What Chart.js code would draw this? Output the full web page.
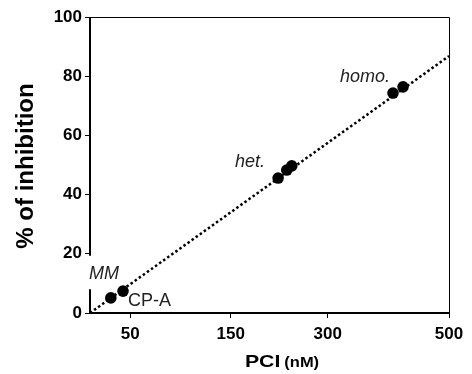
<!DOCTYPE html>
<html>
<head>
<meta charset="utf-8">
<script src="https://cdn.jsdelivr.net/npm/chart.js@4/dist/chart.umd.min.js"></script>
<style>
  html, body { margin: 0; padding: 0; background: #fff; }
  #wrap { width: 472px; height: 374px; }
</style>
</head>
<body>
<div id="wrap"><canvas id="c"></canvas></div>
<script>
// ─── data ────────────────────────────────────────────────────────────────────
const POINT_X = [29, 46, 262, 274, 281, 422, 436];
const POINT_Y = [5.1, 7.4, 45.6, 48.3, 49.7, 74.3, 76.4];
const FIT_X = [0, 500];
const FIT_Y = [0, 86.8];
const X_TICK_POS    = [56, 196, 331, 500];
const X_TICK_LABELS = ['50', '150', '300', '500'];
const Y_TICKS = [0, 20, 40, 60, 80, 100];
const Y_BREAK = [8, 20];               // gap in the left axis
const GROUP_LABELS = ['MM', 'CP-A', 'het.', 'homo.'];

const FONT = "'Liberation Sans', Arial, Helvetica, sans-serif";

// ─── axis frame, break, titles and group labels ──────────────────────────────
const framePlugin = {
  id: 'frame',
  afterDraw(chart) {
    const { ctx, chartArea: a, scales: { x, y } } = chart;
    ctx.save();
    ctx.strokeStyle = '#000';

    // thin top + right border
    ctx.lineWidth = 1;
    ctx.beginPath();
    ctx.moveTo(a.left, a.top + 0.5);
    ctx.lineTo(a.right + 0.5, a.top + 0.5);
    ctx.lineTo(a.right + 0.5, a.bottom);
    ctx.stroke();

    // broken left axis
    ctx.lineWidth = 2;
    ctx.beginPath();
    ctx.moveTo(a.left, a.top);
    ctx.lineTo(a.left, y.getPixelForValue(Y_BREAK[1]) + 2);
    ctx.moveTo(a.left, y.getPixelForValue(Y_BREAK[0]));
    ctx.lineTo(a.left, a.bottom);
    ctx.stroke();

    // group labels
    const px = i => x.getPixelForValue(POINT_X[i]);
    const py = i => y.getPixelForValue(POINT_Y[i]);
    ctx.fillStyle = '#222';
    ctx.textBaseline = 'alphabetic';
    ctx.font = `italic 18px ${FONT}`;
    ctx.textAlign = 'left';
    ctx.fillText(GROUP_LABELS[0], a.left - 1, py(0) - 19);
    ctx.textAlign = 'right';
    ctx.fillText(GROUP_LABELS[2], px(2) - 13, py(2) - 11);
    ctx.fillText(GROUP_LABELS[3], px(5) - 3, py(5) - 11);
    ctx.font = `18px ${FONT}`;
    ctx.textAlign = 'left';
    ctx.fillText(GROUP_LABELS[1], px(1) + 5, py(1) + 15);

    // y title
    ctx.fillStyle = '#000';
    ctx.save();
    ctx.translate(33, 166);
    ctx.rotate(-Math.PI / 2);
    ctx.font = `bold 24px ${FONT}`;
    ctx.textAlign = 'center';
    ctx.fillText('% of inhibition', 0, 0);
    ctx.restore();

    // x title: "PCI" large, "(nM)" smaller, both a bit wide
    ctx.textAlign = 'left';
    ctx.font = `bold 17px ${FONT}`;
    const w1 = ctx.measureText('PCI').width * 1.25;
    ctx.font = `bold 15px ${FONT}`;
    const w2 = ctx.measureText('(nM)').width * 1.1;
    const gap = 4;
    const sx = 282 - (w1 + gap + w2) / 2;
    ctx.save();
    ctx.translate(sx, 367);
    ctx.scale(1.25, 1);
    ctx.font = `bold 17px ${FONT}`;
    ctx.fillText('PCI', 0, 0);
    ctx.restore();
    ctx.save();
    ctx.translate(sx + w1 + gap, 367);
    ctx.scale(1.1, 1);
    ctx.font = `bold 15px ${FONT}`;
    ctx.fillText('(nM)', 0, 0);
    ctx.restore();

    ctx.restore();
  },
};

const tickGrid = {
  drawOnChartArea: false, drawTicks: true,
  tickLength: 5, color: '#000', lineWidth: 1,
};

new Chart(document.getElementById('c'), {
  type: 'scatter',
  data: {
    datasets: [
      {
        data: FIT_X.map((v, i) => ({ x: v, y: FIT_Y[i] })),
        showLine: true, borderColor: '#000', borderWidth: 2.5,
        borderDash: [2.5, 2.5], pointRadius: 0, order: 2,
      },
      {
        data: POINT_X.map((v, i) => ({ x: v, y: POINT_Y[i] })),
        pointRadius: 5.8, pointBackgroundColor: '#000',
        pointBorderColor: '#000', pointBorderWidth: 0, order: 1,
      },
    ],
  },
  options: {
    responsive: true, maintainAspectRatio: false, animation: false,
    layout: { padding: { top: 17, right: 23, left: 0, bottom: 0 } },
    plugins: { legend: { display: false }, tooltip: { enabled: false } },
    scales: {
      x: {
        type: 'linear', min: 0, max: 500,
        afterBuildTicks: s => { s.ticks = X_TICK_POS.map(v => ({ value: v })); },
        afterFit: s => { s.height = 61; },
        ticks: {
          callback: (v, i) => X_TICK_LABELS[i],
          color: '#000', padding: 6, autoSkip: false, maxRotation: 0,
          font: { family: FONT, size: 17, weight: 'bold' },
        },
        grid: tickGrid,
        border: { display: true, color: '#000', width: 2 },
      },
      y: {
        type: 'linear', min: 0, max: 100,
        afterBuildTicks: s => { s.ticks = Y_TICKS.map(v => ({ value: v })); },
        afterFit: s => { s.width = 90; },
        ticks: {
          color: '#000', padding: 3,
          font: { family: FONT, size: 17, weight: 'bold' },
        },
        grid: tickGrid,
        border: { display: false },
      },
    },
  },
  plugins: [framePlugin],
});
</script>
</body>
</html>
